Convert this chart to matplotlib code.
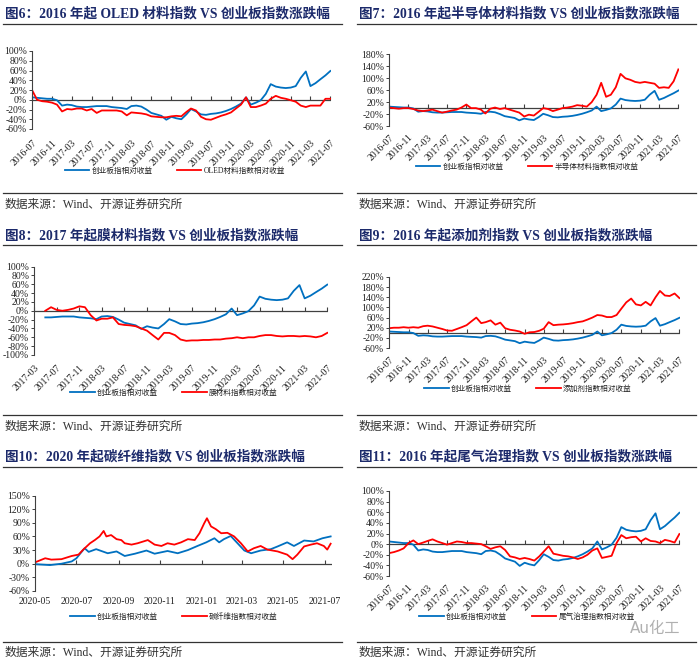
import numpy as np
import pandas as pd
import matplotlib
matplotlib.use('Agg')
import matplotlib.pyplot as plt
from matplotlib.lines import Line2D
from matplotlib.font_manager import FontProperties

plt.rcParams['font.family'] = ['Liberation Serif', 'Noto Sans CJK SC']

W, H = 700, 667
fig = plt.figure(figsize=(7, 6.67), dpi=100)

BLUE = '#0070C0'
RED = '#FF0000'
NAVY = '#1C2A6B'
AXC = '#404040'

# ---------------- data (percent, monthly from start month) ----------------
chinext_start = '2016-07-01'
chinext = [5, 4, 3, 2, 2, -1, -12, -10, -11, -14, -15, -15, -14, -13, -13, -13,
           -15, -16, -17, -19, -13, -12, -14, -20, -27, -30, -33, -41, -35, -38,
           -40, -30, -19, -24, -30, -31, -29, -28, -26, -23, -19, -14, -8, 5,
           -10, -6, -1, 12, 32, 27, 25, 24, 25, 28, 45, 58, 28, 34, 42, 50, 59]

oled = [20, 0, -3, -4, -6, -10, -24, -19, -20, -18, -18, -22, -19, -27, -22, -22,
        -22, -22, -24, -32, -26, -27, -28, -30, -34, -35, -36, -36, -34, -33,
        -34, -25, -18, -22, -35, -40, -41, -37, -33, -30, -26, -18, -10, 5,
        -15, -15, -12, -8, 2, 8, 4, 2, -1, -4, -12, -15, -12, -12, -12, 2, 2]

semi = [2, 0, -2, 0, 0, -3, -8, -10, -8, -5, -10, -15, -12, -8, -5, 2, 12, 0, 0,
        -5, -18, -2, 2, -3, 0, -5, -10, -15, -28, -22, -25, -12, 0, -3, -10, -5,
        0, 2, 5, 10, 8, 5, 20, 45, 85, 38, 45, 70, 115, 100, 95, 88, 85, 88, 85,
        82, 68, 70, 68, 90, 130]

film_start = '2017-05-01'
film = [0, 8, 2, 0, 2, 5, 10, 8, -10, -22, -18, -18, -15, -30, -32, -33, -35,
        -40, -45, -55, -65, -50, -50, -55, -65, -68, -67, -67, -66, -66, -65,
        -65, -63, -62, -60, -62, -60, -60, -57, -55, -55, -57, -58, -57, -57,
        -58, -57, -58, -60, -57, -50]

additive = [18, 20, 20, 22, 20, 22, 20, 26, 28, 25, 20, 15, 9, 8, 15, 22, 30, 45,
            60, 38, 42, 49, 32, 40, 18, 12, 9, 5, -4, 2, 3, 8, 16, 42, 30, 32, 33,
            35, 38, 42, 45, 52, 60, 70, 68, 62, 62, 70, 95, 120, 135, 112, 108,
            122, 108, 140, 165, 147, 145, 155, 137]

exhaust = [-17, -15, -12, -8, 2, 7, 0, 3, 6, 9, 5, 2, -1, 2, 5, 4, 2, 2, 1, 0, -4,
           -9, -6, -4, -11, -23, -25, -28, -26, -28, -31, -23, -14, -4, -18, -20,
           -22, -23, -25, -28, -25, -20, -12, -8, -26, -24, -22, 2, 17, 11, 13, 14,
           5, 11, 6, 5, 2, 8, 6, 3, 19]

cf_blue_dates = ['2020-05-01', '2020-05-23', '2020-06-09', '2020-06-24', '2020-07-01',
                 '2020-07-08', '2020-07-13', '2020-07-19', '2020-07-30', '2020-08-16',
                 '2020-08-29', '2020-09-10', '2020-09-25', '2020-10-12', '2020-10-24',
                 '2020-11-12', '2020-11-27', '2020-12-12', '2020-12-26', '2021-01-08',
                 '2021-01-20', '2021-01-27', '2021-02-03', '2021-02-13', '2021-02-23',
                 '2021-03-05', '2021-03-15', '2021-03-29', '2021-04-13', '2021-04-23',
                 '2021-05-07', '2021-05-17', '2021-06-01', '2021-06-15', '2021-06-28',
                 '2021-07-10']
cf_blue = [-1, -3, 0, 5, 12, 25, 34, 26, 32, 23, 27, 17, 22, 29, 22, 28, 23, 30, 39,
           47, 56, 47, 54, 61, 45, 29, 23, 29, 32, 38, 47, 39, 51, 49, 56, 60]

cf_red_dates = ['2020-05-01', '2020-05-16', '2020-05-25', '2020-06-09', '2020-06-24',
                '2020-07-04', '2020-07-11', '2020-07-21', '2020-07-28', '2020-08-04',
                '2020-08-10', '2020-08-14', '2020-08-21', '2020-08-29', '2020-09-05',
                '2020-09-10', '2020-09-20', '2020-09-29', '2020-10-14', '2020-10-24',
                '2020-11-03', '2020-11-12', '2020-11-22', '2020-12-02', '2020-12-12',
                '2020-12-22', '2020-12-29', '2021-01-05', '2021-01-09', '2021-01-15',
                '2021-01-22', '2021-01-30', '2021-02-08', '2021-02-18', '2021-02-28',
                '2021-03-10', '2021-03-19', '2021-03-29', '2021-04-08', '2021-04-23',
                '2021-05-07', '2021-05-15', '2021-05-22', '2021-06-01', '2021-06-11',
                '2021-06-20', '2021-06-30', '2021-07-05', '2021-07-10']
cf_red = [3, 12, 9, 10, 17, 20, 31, 45, 52, 60, 72, 60, 63, 54, 52, 45, 42, 45, 52,
          42, 39, 45, 42, 47, 54, 52, 67, 89, 100, 82, 76, 67, 68, 60, 45, 27, 34,
          39, 31, 27, 20, 10, 20, 38, 42, 45, 39, 31, 44]

label_cyb = '创业板指相对收益'

# ---------------- helpers ----------------
def px_axes(x0, x1, ytop, ybot):
    return fig.add_axes([x0 / W, 1 - ybot / H, (x1 - x0) / W, (ybot - ytop) / H])


def monthly(start, values):
    return pd.date_range(start, periods=len(values), freq='MS')


def style_axes(ax, ylim, ystep, xlim, xticks, xfmt, rot, xpad):
    ax.patch.set_alpha(0)
    for s in ['top', 'right', 'bottom']:
        ax.spines[s].set_visible(False)
    ax.spines['left'].set_color(AXC)
    ax.spines['left'].set_linewidth(0.8)
    ax.set_ylim(*ylim)
    yt = list(range(ylim[0], ylim[1] + 1, ystep))
    ax.set_yticks(yt)
    ax.set_yticklabels([f'{v}%' for v in yt])
    ax.tick_params(axis='y', length=2.5, width=0.7, pad=1, labelsize=7,
                   colors='#222222', color=AXC)
    ax.set_xlim(pd.Timestamp(xlim[0]), pd.Timestamp(xlim[1]))
    ax.set_xticks(xticks)
    labs = [d.strftime(xfmt) for d in xticks]
    if rot:
        ax.set_xticklabels(labs, rotation=rot, ha='right', va='top',
                           rotation_mode='anchor')
    else:
        ax.set_xticklabels(labs)
    ax.tick_params(axis='x', length=0, pad=xpad, labelsize=7, colors='#222222')
    ax.axhline(0, color=AXC, lw=0.9, zorder=1)
    ax.plot(xticks, [0] * len(xticks), ls='none', marker=2, ms=3, mew=0.8,
            color=AXC, clip_on=False, zorder=1)


def decorate(x0, title, ytitle, yline, ybottom, ysrc, handles, labels, lcx, lcy):
    fig.text((x0) / W, 1 - ytitle / H, title, fontsize=9.8, fontweight='bold',
             color=NAVY, va='center', ha='left')
    fig.add_artist(Line2D([(x0 - 2) / W, (x0 + 337) / W], [1 - yline / H] * 2,
                          color='#333333', lw=0.9))
    fig.add_artist(Line2D([(x0 - 2) / W, (x0 + 337) / W], [1 - ybottom / H] * 2,
                          color='#333333', lw=0.9))
    fig.text(x0 / W, 1 - ysrc / H, '数据来源：Wind、开源证券研究所', fontsize=8.5,
             color='#333333', va='center', ha='left')
    fig.legend(handles, labels, loc='center', bbox_to_anchor=(lcx / W, 1 - lcy / H),
               ncol=2, frameon=False, prop=FontProperties(
                   family=['Liberation Serif', 'Noto Sans CJK SC'], size=5.5),
               handlelength=3.2, handletextpad=0.3, columnspacing=3.2,
               borderpad=0, labelcolor='#222222')


cyb_dates = monthly(chinext_start, chinext)
ticks4 = pd.date_range('2016-07-01', '2021-07-01', freq='4MS')

# ---------------- panel 1 : OLED ----------------
ax = px_axes(32, 331, 51, 129)
style_axes(ax, (-60, 100), 20, ('2016-07-01', '2021-07-05'), ticks4, '%Y-%m', 45, 7)
b, = ax.plot(cyb_dates, chinext, color=BLUE, lw=1.3)
r, = ax.plot(monthly(chinext_start, oled), oled, color=RED, lw=1.3)
decorate(5, '图6：2016 年起 OLED 材料指数 VS 创业板指数涨跌幅', 14, 24, 193, 205,
         [b, r], [label_cyb, 'OLED材料指数相对收益'], 175, 171)

# ---------------- panel 2 : semiconductor ----------------
ax = px_axes(389, 679, 54.5, 126)
style_axes(ax, (-60, 180), 40, ('2016-07-01', '2021-07-05'), ticks4, '%Y-%m', 45, 5)
b, = ax.plot(cyb_dates, chinext, color=BLUE, lw=1.3)
r, = ax.plot(monthly(chinext_start, semi), semi, color=RED, lw=1.3)
decorate(359, '图7：2016 年起半导体材料指数 VS 创业板指数涨跌幅', 14, 24, 193, 205,
         [b, r], [label_cyb, '半导体材料指数相对收益'], 527, 167)

# ---------------- panel 3 : film ----------------
ticks3 = pd.date_range('2017-03-01', '2021-07-01', freq='4MS')
ax = px_axes(34, 328, 266.5, 355)
style_axes(ax, (-100, 100), 20, ('2017-03-01', '2021-07-05'), ticks3, '%Y-%m', 45, 6)
sl = list(cyb_dates).index(pd.Timestamp(film_start))
b, = ax.plot(cyb_dates[sl:], chinext[sl:], color=BLUE, lw=1.3)
r, = ax.plot(monthly(film_start, film), film, color=RED, lw=1.3)
decorate(5, '图8：2017 年起膜材料指数 VS 创业板指数涨跌幅', 236, 245, 415, 427,
         [b, r], [label_cyb, '膜材料指数相对收益'], 174, 393)

# ---------------- panel 4 : additive ----------------
ax = px_axes(389, 680, 277, 348)
style_axes(ax, (-60, 220), 40, ('2016-07-01', '2021-07-05'), ticks4, '%Y-%m', 45, 5)
b, = ax.plot(cyb_dates, chinext, color=BLUE, lw=1.3)
r, = ax.plot(monthly(chinext_start, additive), additive, color=RED, lw=1.3)
decorate(359, '图9：2016 年起添加剂指数 VS 创业板指数涨跌幅', 236, 245, 415, 427,
         [b, r], [label_cyb, '添加剂指数相对收益'], 528, 389)

# ---------------- panel 5 : carbon fibre ----------------
ticks2 = pd.date_range('2020-05-01', '2021-07-01', freq='2MS')
ax = px_axes(35, 332, 495.5, 591)
style_axes(ax, (-60, 150), 30, ('2020-05-01', '2021-07-12'), ticks2, '%Y-%m', 0, 4)
b, = ax.plot(pd.to_datetime(cf_blue_dates), cf_blue, color=BLUE, lw=1.3)
r, = ax.plot(pd.to_datetime(cf_red_dates), cf_red, color=RED, lw=1.3)
decorate(5, '图10：2020 年起碳纤维指数 VS 创业板指数涨跌幅', 457, 466.5, 642, 653,
         [b, r], [label_cyb, '碳纤维指数相对收益'], 174, 617)

# ---------------- panel 6 : exhaust treatment ----------------
ax = px_axes(389, 680, 491, 576)
style_axes(ax, (-60, 100), 20, ('2016-07-01', '2021-07-05'), ticks4, '%Y-%m', 45, 5)
b, = ax.plot(cyb_dates, chinext, color=BLUE, lw=1.3)
r, = ax.plot(monthly(chinext_start, exhaust), exhaust, color=RED, lw=1.3)
decorate(359, '图11：2016 年起尾气治理指数 VS 创业板指数涨跌幅', 457, 466.5, 642, 653,
         [b, r], [label_cyb, '尾气治理指数相对收益'], 527, 617)

# watermark
fig.text(655 / W, 1 - 629 / H, 'Au化工', fontsize=11, color='#b0b0b0',
         ha='center', va='center', family=['DejaVu Sans', 'Noto Sans CJK SC'])

fig.savefig('out.png', dpi=100)
